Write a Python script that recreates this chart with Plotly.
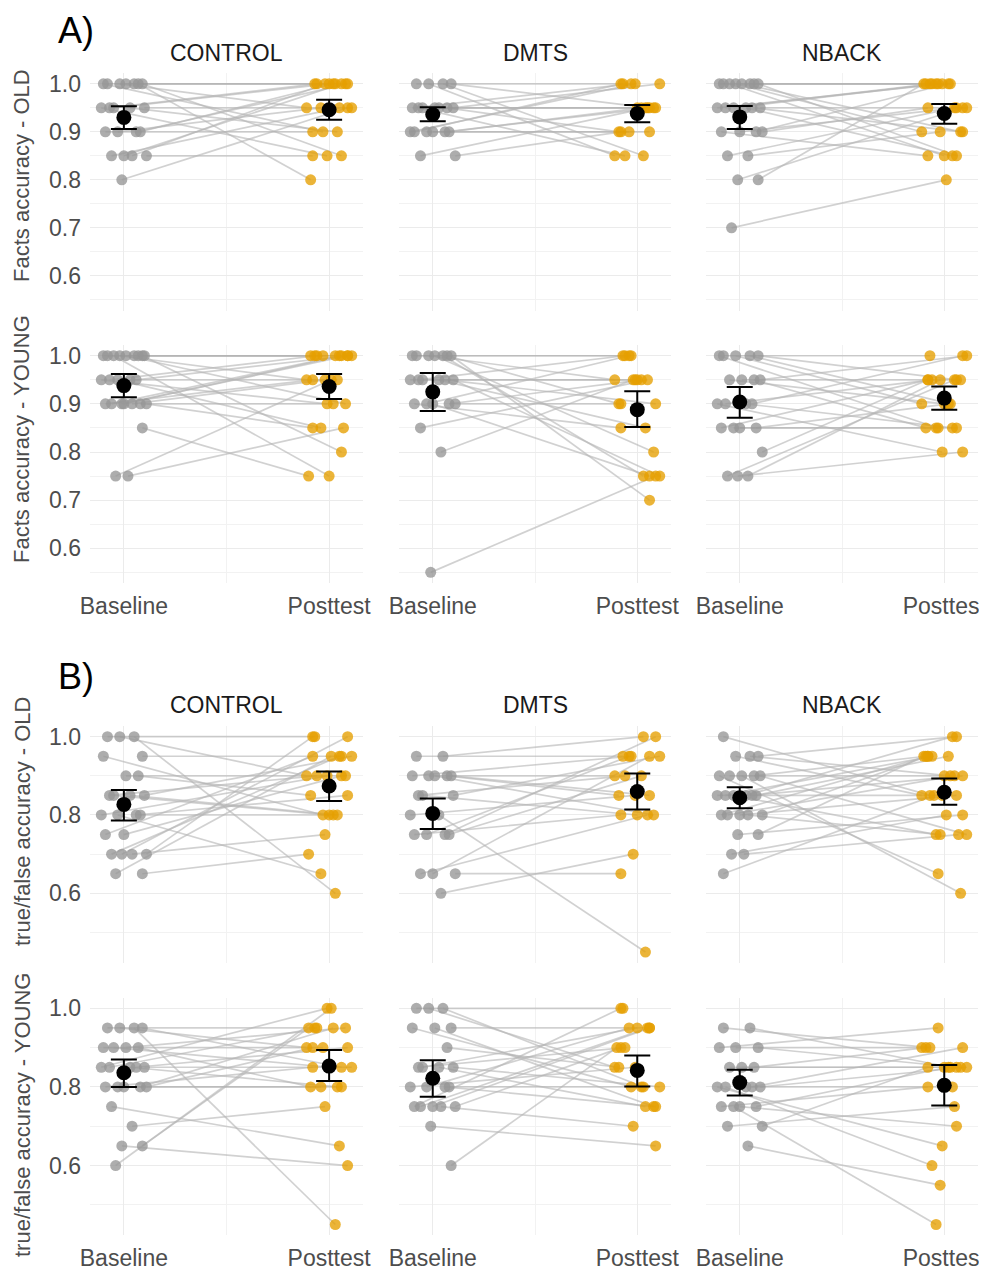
import plotly.graph_objects as go

W, H = 987, 1269

CONDITIONS = ["CONTROL", "DMTS", "NBACK"]
TIME_LABELS = ["Baseline", "Posttest"]
ROW_TITLES = ["Facts accuracy - OLD", "Facts accuracy - YOUNG",
              "true/false accuracy - OLD", "true/false accuracy - YOUNG"]
SECTION_LABELS = ["A)", "B)"]

# ---------------- individual data (baseline / posttest, paired by index) ----------------
# A) Facts accuracy - OLD
FACTS_OLD_CONTROL_BASE = [1, 1, 1, 1, 1, 1, 1, .95, .95, .95, .95, .95, .9, .9, .9, .9, .85, .85, .85, .85, .8]
FACTS_OLD_CONTROL_POST = [1, 1, .95, .85, .9, 1, .8, 1, .95, 1, .9, .85, 1, .95, 1, .9, 1, .85, .95, 1, .95]
FACTS_OLD_DMTS_BASE = [1, 1, 1, 1, .95, .95, .95, .95, .95, .95, .95, .9, .9, .9, .9, .9, .9, .85, .85]
FACTS_OLD_DMTS_POST = [1, .85, .85, .95, 1, .95, .9, .95, 1, .85, .95, 1, .95, .9, .95, 1, .9, .9, .95]
FACTS_OLD_NBACK_BASE = [1, 1, 1, 1, 1, 1, 1, 1, .95, .95, .95, .95, .95, .95, .9, .9, .9, .9, .85, .85, .8, .8, .7]
FACTS_OLD_NBACK_POST = [1, 1, .9, .85, 1, .9, 1, .85, .95, 1, .85, 1, .9, 1, 1, .85, .95, .95, .95, .9, .95, 1, .8]
# A) Facts accuracy - YOUNG
FACTS_YOUNG_CONTROL_BASE = [1, 1, 1, 1, 1, 1, 1, 1, 1, .95, .95, .95, .95, .95, .9, .9, .9, .9, .9, .9, .9, .85, .75, .75]
FACTS_YOUNG_CONTROL_POST = [1, 1, .95, .8, 1, .9, 1, .75, 1, 1, .95, .9, 1, .85, .9, .95, 1, .85, 1, .95, 1, .75, .95, .85]
FACTS_YOUNG_DMTS_BASE = [1, 1, 1, 1, 1, 1, 1, .95, .95, .95, .95, .95, .95, .9, .9, .9, .9, .9, .85, .8, .55]
FACTS_YOUNG_DMTS_POST = [1, .75, .95, .7, 1, .8, .9, .95, .75, 1, .85, .95, .9, 1, .95, .85, .75, .9, .95, .95, .75]
FACTS_YOUNG_NBACK_BASE = [1, 1, 1, 1, 1, .95, .95, .95, .95, .9, .9, .9, .9, .85, .85, .85, .85, .8, .75, .75, .75]
FACTS_YOUNG_NBACK_POST = [1, .9, .9, .95, .85, .95, .85, .9, 1, .95, .85, .8, 1, .85, .9, .95, .85, .95, .95, .95, .8]
# B) true/false accuracy - OLD
TF_OLD_CONTROL_BASE = [1, 1, 1, .95, .95, .9, .9, .85, .85, .85, .85, .8, .8, .8, .8, .75, .75, .7, .7, .7, .7, .65, .65]
TF_OLD_CONTROL_POST = [1, .6, .9, .95, .8, .9, .85, .8, .95, .9, .8, .9, .85, .65, .8, .95, .9, 1, .95, .75, 1, .7, .95]
TF_OLD_DMTS_BASE = [.95, .95, .9, .9, .9, .9, .9, .85, .85, .85, .8, .8, .75, .75, .75, .75, .65, .65, .65, .6]
TF_OLD_DMTS_POST = [.95, 1, .9, .85, .95, .8, .85, .8, .95, .9, .45, .85, 1, .95, .9, .8, .95, .65, .8, .7]
TF_OLD_NBACK_BASE = [1, .95, .95, .95, .9, .9, .9, .9, .9, .85, .85, .85, .85, .85, .85, .8, .8, .8, .8, .8, .75, .75, .7, .7, .65]
TF_OLD_NBACK_POST = [.85, .9, .85, 1, .65, .6, .95, .9, .75, .95, 1, .85, .9, .75, .95, .95, .85, .95, .9, .75, .8, .95, .8, .75, .85]
# B) true/false accuracy - YOUNG
TF_YOUNG_CONTROL_BASE = [.95, .95, .95, .95, .9, .9, .9, .9, .85, .85, .85, .85, .85, .8, .8, .8, .8, .8, .75, .7, .65, .65, .6]
TF_YOUNG_CONTROL_POST = [.95, .45, .9, .85, .9, .95, .8, .85, .85, .95, .8, 1, .9, .8, .95, .85, .8, .9, .65, .75, .6, .95, 1]
TF_YOUNG_DMTS_BASE = [1, 1, 1, .95, .95, .95, .9, .85, .85, .85, .85, .8, .8, .8, .8, .75, .75, .75, .75, .75, .7, .6]
TF_YOUNG_DMTS_POST = [1, .8, .85, .95, .8, .75, .85, .95, .8, .9, .75, .85, .75, .95, .8, 1, .95, .9, .95, .7, .65, .9]
TF_YOUNG_NBACK_BASE = [.95, .95, .9, .9, .9, .85, .85, .85, .8, .8, .8, .8, .8, .75, .75, .75, .75, .7, .7, .65]
TF_YOUNG_NBACK_POST = [.9, .85, .9, .85, .95, .85, .9, .85, .85, .6, .8, .65, .9, .45, .85, .8, .7, .85, .75, .55]

# ---------------- summary: mean and CI bounds [Baseline, Posttest] ----------------
FACTS_OLD_CONTROL_MEAN = [0.930, 0.946]; FACTS_OLD_CONTROL_LO = [0.906, 0.925]; FACTS_OLD_CONTROL_HI = [0.953, 0.967]
FACTS_OLD_DMTS_MEAN = [0.936, 0.938];    FACTS_OLD_DMTS_LO = [0.922, 0.920];    FACTS_OLD_DMTS_HI = [0.951, 0.956]
FACTS_OLD_NBACK_MEAN = [0.931, 0.938];   FACTS_OLD_NBACK_LO = [0.906, 0.917];   FACTS_OLD_NBACK_HI = [0.954, 0.958]
FACTS_YOUNG_CONTROL_MEAN = [0.938, 0.936]; FACTS_YOUNG_CONTROL_LO = [0.914, 0.910]; FACTS_YOUNG_CONTROL_HI = [0.962, 0.962]
FACTS_YOUNG_DMTS_MEAN = [0.925, 0.888];  FACTS_YOUNG_DMTS_LO = [0.885, 0.852];  FACTS_YOUNG_DMTS_HI = [0.964, 0.926]
FACTS_YOUNG_NBACK_MEAN = [0.904, 0.912]; FACTS_YOUNG_NBACK_LO = [0.871, 0.888]; FACTS_YOUNG_NBACK_HI = [0.935, 0.936]
TF_OLD_CONTROL_MEAN = [0.827, 0.874];    TF_OLD_CONTROL_LO = [0.786, 0.836];    TF_OLD_CONTROL_HI = [0.864, 0.911]
TF_OLD_DMTS_MEAN = [0.804, 0.860];       TF_OLD_DMTS_LO = [0.764, 0.814];       TF_OLD_DMTS_HI = [0.842, 0.906]
TF_OLD_NBACK_MEAN = [0.844, 0.858];      TF_OLD_NBACK_LO = [0.817, 0.826];      TF_OLD_NBACK_HI = [0.871, 0.893]
TF_YOUNG_CONTROL_MEAN = [0.836, 0.853];  TF_YOUNG_CONTROL_LO = [0.800, 0.815];  TF_YOUNG_CONTROL_HI = [0.870, 0.894]
TF_YOUNG_DMTS_MEAN = [0.822, 0.842];     TF_YOUNG_DMTS_LO = [0.775, 0.801];     TF_YOUNG_DMTS_HI = [0.868, 0.880]
TF_YOUNG_NBACK_MEAN = [0.811, 0.804];    TF_YOUNG_NBACK_LO = [0.778, 0.753];    TF_YOUNG_NBACK_HI = [0.844, 0.856]

PANELS = [
    [(FACTS_OLD_CONTROL_BASE, FACTS_OLD_CONTROL_POST, FACTS_OLD_CONTROL_MEAN, FACTS_OLD_CONTROL_LO, FACTS_OLD_CONTROL_HI),
     (FACTS_OLD_DMTS_BASE, FACTS_OLD_DMTS_POST, FACTS_OLD_DMTS_MEAN, FACTS_OLD_DMTS_LO, FACTS_OLD_DMTS_HI),
     (FACTS_OLD_NBACK_BASE, FACTS_OLD_NBACK_POST, FACTS_OLD_NBACK_MEAN, FACTS_OLD_NBACK_LO, FACTS_OLD_NBACK_HI)],
    [(FACTS_YOUNG_CONTROL_BASE, FACTS_YOUNG_CONTROL_POST, FACTS_YOUNG_CONTROL_MEAN, FACTS_YOUNG_CONTROL_LO, FACTS_YOUNG_CONTROL_HI),
     (FACTS_YOUNG_DMTS_BASE, FACTS_YOUNG_DMTS_POST, FACTS_YOUNG_DMTS_MEAN, FACTS_YOUNG_DMTS_LO, FACTS_YOUNG_DMTS_HI),
     (FACTS_YOUNG_NBACK_BASE, FACTS_YOUNG_NBACK_POST, FACTS_YOUNG_NBACK_MEAN, FACTS_YOUNG_NBACK_LO, FACTS_YOUNG_NBACK_HI)],
    [(TF_OLD_CONTROL_BASE, TF_OLD_CONTROL_POST, TF_OLD_CONTROL_MEAN, TF_OLD_CONTROL_LO, TF_OLD_CONTROL_HI),
     (TF_OLD_DMTS_BASE, TF_OLD_DMTS_POST, TF_OLD_DMTS_MEAN, TF_OLD_DMTS_LO, TF_OLD_DMTS_HI),
     (TF_OLD_NBACK_BASE, TF_OLD_NBACK_POST, TF_OLD_NBACK_MEAN, TF_OLD_NBACK_LO, TF_OLD_NBACK_HI)],
    [(TF_YOUNG_CONTROL_BASE, TF_YOUNG_CONTROL_POST, TF_YOUNG_CONTROL_MEAN, TF_YOUNG_CONTROL_LO, TF_YOUNG_CONTROL_HI),
     (TF_YOUNG_DMTS_BASE, TF_YOUNG_DMTS_POST, TF_YOUNG_DMTS_MEAN, TF_YOUNG_DMTS_LO, TF_YOUNG_DMTS_HI),
     (TF_YOUNG_NBACK_BASE, TF_YOUNG_NBACK_POST, TF_YOUNG_NBACK_MEAN, TF_YOUNG_NBACK_LO, TF_YOUNG_NBACK_HI)],
]

# ---------------- layout / style constants ----------------
FONT = "Liberation Sans, Arial, Helvetica, sans-serif"
GREY_PT = "rgba(150,150,150,0.78)"
ORANGE_PT = "rgba(230,159,0,0.78)"
LINE_COL = "rgba(180,180,180,0.62)"
GRID_MAJOR = "#ebebeb"
GRID_MINOR = "#f2f2f2"
TICK_COL = "#4d4d4d"
FS = 23

# fixed (non-random) horizontal spread pattern for the individual points
SPREAD = [-0.08, 0.05, -0.02, 0.09, -0.10, 0.01, 0.07, -0.05, 0.10, -0.07, 0.03, -0.11, 0.06,
          -0.03, 0.08, -0.09, 0.00, 0.11, -0.06, 0.04, -0.01, 0.09, -0.04, 0.02, -0.08, 0.06]

# target positions on screen (px); the page body adds an 8 px margin, compensated below
PAGE_OFF = 8
COL_PX = [(90, 363), (399, 671), (706, 978)]
ROW_PX = [(73, 310.6), (344.9, 583.2), (725.9, 962.8), (997.5, 1235.3)]
ROW_RANGE = [(0.5275, 1.0225), (0.5275, 1.0225), (0.4225, 1.0275), (0.4225, 1.0275)]
ROW_TICKS = [[0.6, 0.7, 0.8, 0.9, 1.0]] * 2 + [[0.6, 0.8, 1.0]] * 2
ROW_MINOR = [[0.55, 0.65, 0.75, 0.85, 0.95]] * 2 + [[0.5, 0.7, 0.9]] * 2
ROW_TITLE_Y = [176, 439, 822, 1115]
X_RANGE = [0.835, 2.165]


def fx(px):
    return (px - PAGE_OFF) / W


def fy(py):
    return 1 - (py - PAGE_OFF) / H


fig = go.Figure()
layout = {}

for r in range(4):
    for c in range(3):
        k = r * 3 + c + 1
        xa = "x" if k == 1 else f"x{k}"
        ya = "y" if k == 1 else f"y{k}"
        base, post, mean, lo, hi = PANELS[r][c]
        n = len(base)
        xb = [1 + SPREAD[i % len(SPREAD)] for i in range(n)]
        xp = [2 + SPREAD[(i + 9) % len(SPREAD)] for i in range(n)]
        lx, ly = [], []
        for i in range(n):
            lx += [xb[i], xp[i], None]
            ly += [base[i], post[i], None]
        fig.add_trace(go.Scatter(x=lx, y=ly, mode="lines", xaxis=xa, yaxis=ya,
                                 line=dict(color=LINE_COL, width=1.7), hoverinfo="skip", showlegend=False))
        fig.add_trace(go.Scatter(x=xb, y=base, mode="markers", xaxis=xa, yaxis=ya,
                                 marker=dict(color=GREY_PT, size=11, line=dict(width=0)), showlegend=False))
        fig.add_trace(go.Scatter(x=xp, y=post, mode="markers", xaxis=xa, yaxis=ya,
                                 marker=dict(color=ORANGE_PT, size=11, line=dict(width=0)), showlegend=False))
        fig.add_trace(go.Scatter(
            x=[1, 2], y=mean, mode="markers", xaxis=xa, yaxis=ya,
            marker=dict(color="black", size=15),
            error_y=dict(type="data", symmetric=False,
                         array=[hi[j] - mean[j] for j in range(2)],
                         arrayminus=[mean[j] - lo[j] for j in range(2)],
                         color="black", thickness=2, width=13),
            showlegend=False))

        x0, x1 = COL_PX[c]
        y0, y1 = ROW_PX[r]
        show_x = r in (1, 3)
        layout["xaxis" if k == 1 else f"xaxis{k}"] = dict(
            domain=[fx(x0), fx(x1)], anchor=ya, range=X_RANGE, automargin=False,
            tickvals=[1, 2], ticktext=TIME_LABELS, showticklabels=show_x,
            ticks="", ticklabelstandoff=7,
            tickfont=dict(size=FS, color=TICK_COL, family=FONT),
            showgrid=True, gridcolor=GRID_MAJOR, gridwidth=1.3, zeroline=False, showline=False,
            minor=dict(tickvals=[1.5], showgrid=True, gridcolor=GRID_MINOR, gridwidth=1),
        )
        layout["yaxis" if k == 1 else f"yaxis{k}"] = dict(
            domain=[fy(y1), fy(y0)], anchor=xa, range=list(ROW_RANGE[r]), automargin=False,
            tickvals=ROW_TICKS[r], ticktext=[f"{v:.1f}" for v in ROW_TICKS[r]],
            showticklabels=(c == 0), ticks="", ticklabelstandoff=8,
            tickfont=dict(size=FS, color=TICK_COL, family=FONT),
            showgrid=True, gridcolor=GRID_MAJOR, gridwidth=1.3, zeroline=False, showline=False,
            minor=dict(tickvals=ROW_MINOR[r], showgrid=True, gridcolor=GRID_MINOR, gridwidth=1),
        )

annotations = []
STRIP_Y = [53, 705]
for s in range(2):
    for c in range(3):
        x0, x1 = COL_PX[c]
        annotations.append(dict(text=CONDITIONS[c], x=fx((x0 + x1) / 2), y=fy(STRIP_Y[s]),
                                xref="paper", yref="paper", showarrow=False,
                                xanchor="center", yanchor="middle",
                                font=dict(size=FS, color="#1a1a1a", family=FONT)))
SECTION_Y = [30, 676]
for s in range(2):
    annotations.append(dict(text=SECTION_LABELS[s], x=fx(56), y=fy(SECTION_Y[s]),
                            xref="paper", yref="paper", showarrow=False,
                            xanchor="left", yanchor="middle",
                            font=dict(size=36, color="black", family=FONT)))
for r in range(4):
    annotations.append(dict(text=ROW_TITLES[r], x=fx(22), y=fy(ROW_TITLE_Y[r]),
                            xref="paper", yref="paper", showarrow=False, textangle=-90,
                            xanchor="center", yanchor="middle",
                            font=dict(size=FS - 1, color=TICK_COL, family=FONT)))

fig.update_layout(
    width=W, height=H, margin=dict(l=0, r=0, t=0, b=0, autoexpand=False),
    paper_bgcolor="white", plot_bgcolor="white",
    annotations=annotations, showlegend=False, **layout,
)

fig.write_html("out.html")
